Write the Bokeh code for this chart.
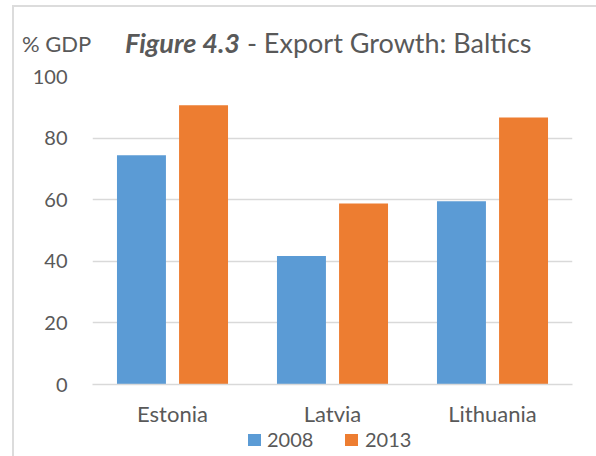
from bokeh.plotting import figure
from bokeh.models import ColumnDataSource, FactorRange, Range1d, FixedTicker, Div
from bokeh.layouts import column
from bokeh.transform import dodge
from bokeh.embed import file_html
from bokeh.resources import INLINE

countries = ["Estonia", "Latvia", "Lithuania"]
exports_2008 = [74.4, 41.7, 59.5]
exports_2013 = [90.7, 58.8, 86.7]
y_ticks = [0, 20, 40, 60, 80, 100]
series_names = ["2008", "2013"]
unit_label = "% GDP"
fig_label = "Figure 4.3"
title_text = " - Export Growth: Baltics"

FONT = "Lato"
TXT = "#595959"
BLUE = "#5B9BD5"
ORANGE = "#ED7D31"
GRID = "#d9d9d9"
FRAME = "#dcdcdc"

src = ColumnDataSource(dict(country=countries, y2008=exports_2008, y2013=exports_2013))

W = 596
DIV_H = 63
FIG_H = 366
LEG_H = 456 - DIV_H - FIG_H

p = figure(width=W, height=FIG_H, output_backend="svg", toolbar_location=None,
           x_range=FactorRange(factors=countries, range_padding=0),
           y_range=Range1d(0, 100),
           min_border_left=92, min_border_right=24, min_border_top=13, min_border_bottom=43)
p.outline_line_color = None
p.background_fill_color = "white"
p.border_fill_alpha = 0

p.vbar(x=dodge("country", -0.194, range=p.x_range), top="y2008", width=0.306,
       source=src, fill_color=BLUE, line_color=None)
p.vbar(x=dodge("country", 0.194, range=p.x_range), top="y2013", width=0.306,
       source=src, fill_color=ORANGE, line_color=None)

p.xgrid.grid_line_color = None
p.ygrid.grid_line_color = GRID
p.ygrid.grid_line_width = 1.5
p.yaxis.ticker = FixedTicker(ticks=y_ticks)

p.yaxis.axis_line_color = None
p.yaxis.major_tick_line_color = None
p.yaxis.minor_tick_line_color = None
p.yaxis.major_tick_out = 0
p.yaxis.major_label_standoff = 25
p.yaxis.major_label_text_font = FONT
p.yaxis.major_label_text_font_size = "20px"
p.yaxis.major_label_text_color = TXT

p.xaxis.axis_line_color = GRID
p.xaxis.axis_line_width = 1.5
p.xaxis.major_tick_line_color = None
p.xaxis.minor_tick_line_color = None
p.xaxis.major_tick_out = 0
p.xaxis.major_label_standoff = 15
p.xaxis.major_label_text_font = FONT
p.xaxis.major_label_text_font_size = "22px"
p.xaxis.major_label_text_color = TXT

title_html = (
    f'<div style="position:relative;width:{W}px;height:{DIV_H}px;font-family:Lato;color:{TXT};line-height:1;">'
    f'<div style="position:absolute;left:12px;top:5px;width:{W - 12}px;height:2px;background:{FRAME};"></div>'
    f'<div style="position:absolute;left:12px;top:5px;width:2px;height:451px;background:{FRAME};"></div>'
    f'<div style="position:absolute;left:22px;top:33px;font-size:22px;white-space:nowrap;">{unit_label}</div>'
    f'<div style="position:absolute;left:125px;top:29px;font-size:27px;white-space:nowrap;">'
    f'<b><i>{fig_label}</i></b>{title_text}</div>'
    '</div>'
)
title_div = Div(text=title_html, width=W, height=DIV_H, margin=0)

legend_html = (
    f'<div style="position:relative;width:{W}px;height:{LEG_H}px;font-family:Lato;color:{TXT};line-height:1;font-size:20px;">'
    f'<div style="position:absolute;left:12px;top:0px;width:2px;height:{LEG_H}px;background:{FRAME};"></div>'
    f'<div style="position:absolute;left:248px;top:5px;width:13px;height:12px;background:{BLUE};"></div>'
    f'<div style="position:absolute;left:267px;top:0px;white-space:nowrap;">{series_names[0]}</div>'
    f'<div style="position:absolute;left:345px;top:5px;width:13px;height:12px;background:{ORANGE};"></div>'
    f'<div style="position:absolute;left:365px;top:0px;white-space:nowrap;">{series_names[1]}</div>'
    '</div>'
)
legend_div = Div(text=legend_html, width=W, height=LEG_H, margin=0)

layout = column(title_div, p, legend_div, spacing=0)

open("out.html", "w").write(file_html(layout, INLINE))
